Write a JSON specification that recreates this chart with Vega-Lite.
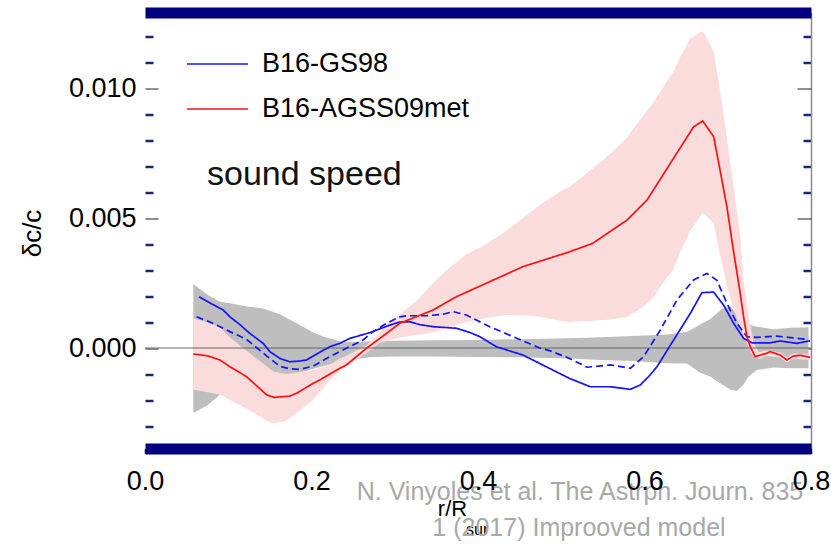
{
  "$schema": "https://vega.github.io/schema/vega-lite/v6.json",
  "width": 666,
  "height": 436,
  "autosize": {"type": "none"},
  "padding": {"left": 145, "top": 12.5, "right": 20, "bottom": 95.5},
  "config": {
    "view": {"stroke": null},
    "font": "Liberation Sans",
    "axis": {"grid": false, "labelFont": "Liberation Sans", "titleFont": "Liberation Sans"}
  },
  "resolve": {"axis": {"x": "independent", "y": "independent"}},
  "datasets": {
    "gray": [
      {"r": 0.058, "lo": -0.0025, "hi": 0.00246},
      {"r": 0.075, "lo": -0.0022, "hi": 0.00205},
      {"r": 0.09, "lo": -0.0018, "hi": 0.00178},
      {"r": 0.102, "lo": -0.0017, "hi": 0.00172},
      {"r": 0.122, "lo": -0.0016, "hi": 0.0016},
      {"r": 0.142, "lo": -0.0014, "hi": 0.00152},
      {"r": 0.162, "lo": -0.0012, "hi": 0.0013},
      {"r": 0.182, "lo": -0.001, "hi": 0.00095},
      {"r": 0.202, "lo": -0.0008, "hi": 0.0006},
      {"r": 0.214, "lo": -0.0007, "hi": 0.00044},
      {"r": 0.238, "lo": -0.0005, "hi": 0.00022},
      {"r": 0.26, "lo": -0.0004, "hi": 0.00024},
      {"r": 0.27, "lo": -0.00035, "hi": 0.00026},
      {"r": 0.3, "lo": -0.00033, "hi": 0.00028},
      {"r": 0.35, "lo": -0.00033, "hi": 0.0003},
      {"r": 0.4, "lo": -0.00035, "hi": 0.00031},
      {"r": 0.45, "lo": -0.00036, "hi": 0.00034},
      {"r": 0.51, "lo": -0.0004, "hi": 0.00038},
      {"r": 0.547, "lo": -0.00046, "hi": 0.00041},
      {"r": 0.586, "lo": -0.0005, "hi": 0.00046},
      {"r": 0.627, "lo": -0.00059, "hi": 0.00052},
      {"r": 0.651, "lo": -0.0006, "hi": 0.00062},
      {"r": 0.667, "lo": -0.00095, "hi": 0.0009},
      {"r": 0.679, "lo": -0.0011, "hi": 0.00112},
      {"r": 0.693, "lo": -0.0014, "hi": 0.0015},
      {"r": 0.703, "lo": -0.0016, "hi": 0.0016},
      {"r": 0.711, "lo": -0.00165, "hi": 0.0013},
      {"r": 0.719, "lo": -0.0014, "hi": 0.00098},
      {"r": 0.725, "lo": -0.0011, "hi": 0.0009},
      {"r": 0.735, "lo": -0.00085, "hi": 0.00082},
      {"r": 0.755, "lo": -0.00075, "hi": 0.00072},
      {"r": 0.775, "lo": -0.00078, "hi": 0.00078},
      {"r": 0.797, "lo": -0.00078, "hi": 0.0008}
    ],
    "pink": [
      {"r": 0.058, "lo": -0.0016, "hi": 0.00114},
      {"r": 0.075, "lo": -0.0017, "hi": 0.00098},
      {"r": 0.09, "lo": -0.0018, "hi": 0.0008},
      {"r": 0.102, "lo": -0.002, "hi": 0.0004},
      {"r": 0.126, "lo": -0.0024, "hi": -0.0002},
      {"r": 0.146, "lo": -0.0028, "hi": -0.0007},
      {"r": 0.154, "lo": -0.0029, "hi": -0.0009},
      {"r": 0.17, "lo": -0.0028, "hi": -0.001},
      {"r": 0.182, "lo": -0.0025, "hi": -0.00095},
      {"r": 0.202, "lo": -0.002, "hi": -0.00085},
      {"r": 0.222, "lo": -0.00125, "hi": -0.00065},
      {"r": 0.234, "lo": -0.0009, "hi": -0.0004},
      {"r": 0.242, "lo": -0.0007, "hi": -0.0003},
      {"r": 0.266, "lo": -0.0002, "hi": 0.0001},
      {"r": 0.282, "lo": 0.0002, "hi": 0.0006},
      {"r": 0.294, "lo": 0.0003, "hi": 0.001},
      {"r": 0.306, "lo": 0.0004, "hi": 0.0013},
      {"r": 0.326, "lo": 0.0005, "hi": 0.0018},
      {"r": 0.346, "lo": 0.0006, "hi": 0.0025},
      {"r": 0.366, "lo": 0.0008, "hi": 0.0031},
      {"r": 0.386, "lo": 0.001, "hi": 0.0036},
      {"r": 0.41, "lo": 0.00115, "hi": 0.004},
      {"r": 0.434, "lo": 0.00127, "hi": 0.0045},
      {"r": 0.458, "lo": 0.00125, "hi": 0.0051},
      {"r": 0.474, "lo": 0.0012, "hi": 0.0055},
      {"r": 0.498, "lo": 0.00105, "hi": 0.006},
      {"r": 0.51, "lo": 0.001, "hi": 0.0062},
      {"r": 0.538, "lo": 0.00105, "hi": 0.0069},
      {"r": 0.56, "lo": 0.0011, "hi": 0.0075},
      {"r": 0.579, "lo": 0.0012, "hi": 0.0081},
      {"r": 0.595, "lo": 0.0015, "hi": 0.0088},
      {"r": 0.61, "lo": 0.0019, "hi": 0.0094},
      {"r": 0.62, "lo": 0.0024, "hi": 0.0099},
      {"r": 0.634, "lo": 0.003, "hi": 0.0106},
      {"r": 0.643, "lo": 0.0037, "hi": 0.0112},
      {"r": 0.655, "lo": 0.0045, "hi": 0.0119},
      {"r": 0.67, "lo": 0.0052, "hi": 0.0122},
      {"r": 0.683, "lo": 0.0048, "hi": 0.0114},
      {"r": 0.69, "lo": 0.0037, "hi": 0.01005},
      {"r": 0.699, "lo": 0.0024, "hi": 0.0081},
      {"r": 0.707, "lo": 0.0015, "hi": 0.0062},
      {"r": 0.715, "lo": 0.0008, "hi": 0.0043},
      {"r": 0.719, "lo": 0.0005, "hi": 0.0026},
      {"r": 0.725, "lo": 0.0, "hi": 0.0013},
      {"r": 0.731, "lo": -0.0003, "hi": 0.0002},
      {"r": 0.737, "lo": -0.00043, "hi": -0.00015},
      {"r": 0.747, "lo": -0.0003, "hi": -0.0001},
      {"r": 0.763, "lo": -0.00037, "hi": -0.00017},
      {"r": 0.771, "lo": -0.00056, "hi": -0.00036},
      {"r": 0.779, "lo": -0.00041, "hi": -0.00021},
      {"r": 0.799, "lo": -0.00046, "hi": -0.00026}
    ],
    "lines": [
      {"r": 0.065, "v": 0.00197, "model": "B16-GS98", "style": "solid"},
      {"r": 0.08, "v": 0.0017, "model": "B16-GS98", "style": "solid"},
      {"r": 0.094, "v": 0.00146, "model": "B16-GS98", "style": "solid"},
      {"r": 0.102, "v": 0.0012, "model": "B16-GS98", "style": "solid"},
      {"r": 0.114, "v": 0.0009, "model": "B16-GS98", "style": "solid"},
      {"r": 0.126, "v": 0.00056, "model": "B16-GS98", "style": "solid"},
      {"r": 0.142, "v": 0.00018, "model": "B16-GS98", "style": "solid"},
      {"r": 0.15, "v": -0.00014, "model": "B16-GS98", "style": "solid"},
      {"r": 0.162, "v": -0.0004, "model": "B16-GS98", "style": "solid"},
      {"r": 0.174, "v": -0.00053, "model": "B16-GS98", "style": "solid"},
      {"r": 0.186, "v": -0.0005, "model": "B16-GS98", "style": "solid"},
      {"r": 0.194, "v": -0.00046, "model": "B16-GS98", "style": "solid"},
      {"r": 0.208, "v": -0.0002, "model": "B16-GS98", "style": "solid"},
      {"r": 0.222, "v": 0.00005, "model": "B16-GS98", "style": "solid"},
      {"r": 0.234, "v": 0.00018, "model": "B16-GS98", "style": "solid"},
      {"r": 0.246, "v": 0.00037, "model": "B16-GS98", "style": "solid"},
      {"r": 0.27, "v": 0.00059, "model": "B16-GS98", "style": "solid"},
      {"r": 0.294, "v": 0.00088, "model": "B16-GS98", "style": "solid"},
      {"r": 0.306, "v": 0.001, "model": "B16-GS98", "style": "solid"},
      {"r": 0.318, "v": 0.00101, "model": "B16-GS98", "style": "solid"},
      {"r": 0.33, "v": 0.0009, "model": "B16-GS98", "style": "solid"},
      {"r": 0.346, "v": 0.00082, "model": "B16-GS98", "style": "solid"},
      {"r": 0.374, "v": 0.00076, "model": "B16-GS98", "style": "solid"},
      {"r": 0.39, "v": 0.0006, "model": "B16-GS98", "style": "solid"},
      {"r": 0.402, "v": 0.00044, "model": "B16-GS98", "style": "solid"},
      {"r": 0.422, "v": 0.00005, "model": "B16-GS98", "style": "solid"},
      {"r": 0.454, "v": -0.00027, "model": "B16-GS98", "style": "solid"},
      {"r": 0.482, "v": -0.00072, "model": "B16-GS98", "style": "solid"},
      {"r": 0.51, "v": -0.00117, "model": "B16-GS98", "style": "solid"},
      {"r": 0.535, "v": -0.00149, "model": "B16-GS98", "style": "solid"},
      {"r": 0.559, "v": -0.00149, "model": "B16-GS98", "style": "solid"},
      {"r": 0.583, "v": -0.00159, "model": "B16-GS98", "style": "solid"},
      {"r": 0.595, "v": -0.00142, "model": "B16-GS98", "style": "solid"},
      {"r": 0.605, "v": -0.0011, "model": "B16-GS98", "style": "solid"},
      {"r": 0.615, "v": -0.00072, "model": "B16-GS98", "style": "solid"},
      {"r": 0.635, "v": 0.00031, "model": "B16-GS98", "style": "solid"},
      {"r": 0.655, "v": 0.00133, "model": "B16-GS98", "style": "solid"},
      {"r": 0.669, "v": 0.00213, "model": "B16-GS98", "style": "solid"},
      {"r": 0.683, "v": 0.00215, "model": "B16-GS98", "style": "solid"},
      {"r": 0.695, "v": 0.00165, "model": "B16-GS98", "style": "solid"},
      {"r": 0.707, "v": 0.00095, "model": "B16-GS98", "style": "solid"},
      {"r": 0.719, "v": 0.00037, "model": "B16-GS98", "style": "solid"},
      {"r": 0.729, "v": 0.0002, "model": "B16-GS98", "style": "solid"},
      {"r": 0.751, "v": 0.0002, "model": "B16-GS98", "style": "solid"},
      {"r": 0.763, "v": 0.00027, "model": "B16-GS98", "style": "solid"},
      {"r": 0.783, "v": 0.00018, "model": "B16-GS98", "style": "solid"},
      {"r": 0.799, "v": 0.00028, "model": "B16-GS98", "style": "solid"},

      {"r": 0.062, "v": 0.0012, "model": "B16-GS98", "style": "dashed"},
      {"r": 0.078, "v": 0.001, "model": "B16-GS98", "style": "dashed"},
      {"r": 0.094, "v": 0.00076, "model": "B16-GS98", "style": "dashed"},
      {"r": 0.102, "v": 0.00063, "model": "B16-GS98", "style": "dashed"},
      {"r": 0.122, "v": 0.00033, "model": "B16-GS98", "style": "dashed"},
      {"r": 0.146, "v": -0.0003, "model": "B16-GS98", "style": "dashed"},
      {"r": 0.162, "v": -0.0007, "model": "B16-GS98", "style": "dashed"},
      {"r": 0.174, "v": -0.0008, "model": "B16-GS98", "style": "dashed"},
      {"r": 0.186, "v": -0.00082, "model": "B16-GS98", "style": "dashed"},
      {"r": 0.202, "v": -0.0007, "model": "B16-GS98", "style": "dashed"},
      {"r": 0.222, "v": -0.00033, "model": "B16-GS98", "style": "dashed"},
      {"r": 0.23, "v": -0.0002, "model": "B16-GS98", "style": "dashed"},
      {"r": 0.25, "v": 0.00012, "model": "B16-GS98", "style": "dashed"},
      {"r": 0.262, "v": 0.00031, "model": "B16-GS98", "style": "dashed"},
      {"r": 0.274, "v": 0.00063, "model": "B16-GS98", "style": "dashed"},
      {"r": 0.29, "v": 0.00095, "model": "B16-GS98", "style": "dashed"},
      {"r": 0.306, "v": 0.0012, "model": "B16-GS98", "style": "dashed"},
      {"r": 0.314, "v": 0.00124, "model": "B16-GS98", "style": "dashed"},
      {"r": 0.338, "v": 0.00124, "model": "B16-GS98", "style": "dashed"},
      {"r": 0.358, "v": 0.0013, "model": "B16-GS98", "style": "dashed"},
      {"r": 0.37, "v": 0.0014, "model": "B16-GS98", "style": "dashed"},
      {"r": 0.386, "v": 0.00127, "model": "B16-GS98", "style": "dashed"},
      {"r": 0.414, "v": 0.00082, "model": "B16-GS98", "style": "dashed"},
      {"r": 0.442, "v": 0.00044, "model": "B16-GS98", "style": "dashed"},
      {"r": 0.474, "v": 0.0, "model": "B16-GS98", "style": "dashed"},
      {"r": 0.486, "v": -0.0001, "model": "B16-GS98", "style": "dashed"},
      {"r": 0.51, "v": -0.0004, "model": "B16-GS98", "style": "dashed"},
      {"r": 0.531, "v": -0.00074, "model": "B16-GS98", "style": "dashed"},
      {"r": 0.559, "v": -0.00065, "model": "B16-GS98", "style": "dashed"},
      {"r": 0.583, "v": -0.00078, "model": "B16-GS98", "style": "dashed"},
      {"r": 0.599, "v": -0.00033, "model": "B16-GS98", "style": "dashed"},
      {"r": 0.619, "v": 0.00069, "model": "B16-GS98", "style": "dashed"},
      {"r": 0.639, "v": 0.00185, "model": "B16-GS98", "style": "dashed"},
      {"r": 0.659, "v": 0.00262, "model": "B16-GS98", "style": "dashed"},
      {"r": 0.675, "v": 0.00287, "model": "B16-GS98", "style": "dashed"},
      {"r": 0.687, "v": 0.0026, "model": "B16-GS98", "style": "dashed"},
      {"r": 0.699, "v": 0.00172, "model": "B16-GS98", "style": "dashed"},
      {"r": 0.711, "v": 0.00095, "model": "B16-GS98", "style": "dashed"},
      {"r": 0.723, "v": 0.00044, "model": "B16-GS98", "style": "dashed"},
      {"r": 0.735, "v": 0.00041, "model": "B16-GS98", "style": "dashed"},
      {"r": 0.759, "v": 0.00046, "model": "B16-GS98", "style": "dashed"},
      {"r": 0.775, "v": 0.0004, "model": "B16-GS98", "style": "dashed"},
      {"r": 0.797, "v": 0.00033, "model": "B16-GS98", "style": "dashed"},

      {"r": 0.058, "v": -0.00023, "model": "B16-AGSS09met", "style": "solid"},
      {"r": 0.075, "v": -0.0003, "model": "B16-AGSS09met", "style": "solid"},
      {"r": 0.09, "v": -0.00046, "model": "B16-AGSS09met", "style": "solid"},
      {"r": 0.102, "v": -0.00072, "model": "B16-AGSS09met", "style": "solid"},
      {"r": 0.122, "v": -0.0011, "model": "B16-AGSS09met", "style": "solid"},
      {"r": 0.146, "v": -0.0018, "model": "B16-AGSS09met", "style": "solid"},
      {"r": 0.155, "v": -0.0019, "model": "B16-AGSS09met", "style": "solid"},
      {"r": 0.174, "v": -0.00185, "model": "B16-AGSS09met", "style": "solid"},
      {"r": 0.182, "v": -0.00174, "model": "B16-AGSS09met", "style": "solid"},
      {"r": 0.202, "v": -0.00136, "model": "B16-AGSS09met", "style": "solid"},
      {"r": 0.21, "v": -0.00123, "model": "B16-AGSS09met", "style": "solid"},
      {"r": 0.234, "v": -0.00078, "model": "B16-AGSS09met", "style": "solid"},
      {"r": 0.242, "v": -0.00065, "model": "B16-AGSS09met", "style": "solid"},
      {"r": 0.266, "v": -0.00001, "model": "B16-AGSS09met", "style": "solid"},
      {"r": 0.29, "v": 0.00056, "model": "B16-AGSS09met", "style": "solid"},
      {"r": 0.306, "v": 0.00095, "model": "B16-AGSS09met", "style": "solid"},
      {"r": 0.314, "v": 0.00105, "model": "B16-AGSS09met", "style": "solid"},
      {"r": 0.346, "v": 0.00146, "model": "B16-AGSS09met", "style": "solid"},
      {"r": 0.374, "v": 0.00197, "model": "B16-AGSS09met", "style": "solid"},
      {"r": 0.414, "v": 0.00255, "model": "B16-AGSS09met", "style": "solid"},
      {"r": 0.454, "v": 0.00313, "model": "B16-AGSS09met", "style": "solid"},
      {"r": 0.51, "v": 0.0037, "model": "B16-AGSS09met", "style": "solid"},
      {"r": 0.538, "v": 0.00403, "model": "B16-AGSS09met", "style": "solid"},
      {"r": 0.579, "v": 0.00492, "model": "B16-AGSS09met", "style": "solid"},
      {"r": 0.603, "v": 0.00569, "model": "B16-AGSS09met", "style": "solid"},
      {"r": 0.631, "v": 0.0071, "model": "B16-AGSS09met", "style": "solid"},
      {"r": 0.659, "v": 0.00851, "model": "B16-AGSS09met", "style": "solid"},
      {"r": 0.67, "v": 0.00873, "model": "B16-AGSS09met", "style": "solid"},
      {"r": 0.683, "v": 0.00813, "model": "B16-AGSS09met", "style": "solid"},
      {"r": 0.69, "v": 0.00697, "model": "B16-AGSS09met", "style": "solid"},
      {"r": 0.699, "v": 0.00543, "model": "B16-AGSS09met", "style": "solid"},
      {"r": 0.707, "v": 0.0037, "model": "B16-AGSS09met", "style": "solid"},
      {"r": 0.715, "v": 0.0021, "model": "B16-AGSS09met", "style": "solid"},
      {"r": 0.719, "v": 0.0012, "model": "B16-AGSS09met", "style": "solid"},
      {"r": 0.723, "v": 0.00044, "model": "B16-AGSS09met", "style": "solid"},
      {"r": 0.727, "v": 0.00005, "model": "B16-AGSS09met", "style": "solid"},
      {"r": 0.733, "v": -0.00033, "model": "B16-AGSS09met", "style": "solid"},
      {"r": 0.747, "v": -0.0002, "model": "B16-AGSS09met", "style": "solid"},
      {"r": 0.751, "v": -0.00014, "model": "B16-AGSS09met", "style": "solid"},
      {"r": 0.763, "v": -0.00027, "model": "B16-AGSS09met", "style": "solid"},
      {"r": 0.771, "v": -0.00046, "model": "B16-AGSS09met", "style": "solid"},
      {"r": 0.779, "v": -0.00031, "model": "B16-AGSS09met", "style": "solid"},
      {"r": 0.787, "v": -0.00028, "model": "B16-AGSS09met", "style": "solid"},
      {"r": 0.799, "v": -0.00036, "model": "B16-AGSS09met", "style": "solid"}
    ],
    "label": [{"r": 0.0745, "v": 0.00627, "t": "sound speed"}],
    "sub": [{"r": 0.3856, "v": -0.00719, "t": "sur"}],
    "credit": [
      {"r": 0.5225, "v": -0.00585, "t": "N. Vinyoles et al. The Astrph. Journ. 835"},
      {"r": 0.5213, "v": -0.00723, "t": "1 (2017) Improoved model"}
    ]
  },
  "layer": [
    {
      "data": {"name": "gray"},
      "mark": {"type": "area", "color": "#bebebe", "opacity": 1},
      "encoding": {
        "x": {
          "field": "r", "type": "quantitative",
          "scale": {"domain": [0, 0.8], "nice": false, "zero": false},
          "axis": {
            "orient": "bottom",
            "values": [0, 0.05, 0.1, 0.15, 0.2, 0.25, 0.3, 0.35, 0.4, 0.45, 0.5, 0.55, 0.6, 0.65, 0.7, 0.75, 0.8],
            "labelExpr": "round(datum.value*20) % 4 == 0 ? format(datum.value, '.1f') : ''",
            "labelFontSize": 27, "labelColor": "#000", "labelPadding": 14.5,
            "labelOverlap": false, "labelFlush": false,
            "tickSize": 5, "tickColor": "#000", "tickWidth": 1.5,
            "domainColor": "#000080", "domainWidth": 11,
            "title": "r/R", "titleFontSize": 22, "titleFontWeight": "normal", "titleColor": "#000",
            "titleX": 307, "titleY": 66.5, "titleBaseline": "alphabetic", "titleAlign": "center",
            "zindex": 1
          }
        },
        "y": {
          "field": "lo", "type": "quantitative",
          "scale": {"domain": [-0.003865, 0.012904], "nice": false, "zero": false},
          "axis": {
            "orient": "left",
            "values": [0, 0.005, 0.01],
            "format": ".3f",
            "labelFontSize": 27, "labelColor": "#000", "labelPadding": 22,
            "tickSize": -13, "tickColor": "#222", "tickWidth": 1,
            "domain": false,
            "title": "δc/c", "titleFontSize": 26, "titleFontWeight": "normal", "titleColor": "#000",
            "titleX": -113, "titleY": 220.5, "titleAngle": 270,
            "titleAlign": "center", "titleBaseline": "middle"
          }
        },
        "y2": {"field": "hi"}
      }
    },
    {
      "data": {"name": "pink"},
      "mark": {"type": "area", "color": "#fbdcdc", "opacity": 1},
      "encoding": {
        "x": {
          "field": "r", "type": "quantitative",
          "scale": {"domain": [0, 0.8], "nice": false, "zero": false},
          "axis": {
            "orient": "top",
            "values": [0.05, 0.1, 0.15, 0.2, 0.25, 0.3, 0.35, 0.4, 0.45, 0.5, 0.55, 0.6, 0.65, 0.7, 0.75],
            "labels": false,
            "tickSize": 5, "tickColor": "#000", "tickWidth": 1.5,
            "domainColor": "#000080", "domainWidth": 11,
            "title": null, "zindex": 1
          }
        },
        "y": {
          "field": "lo", "type": "quantitative",
          "scale": {"domain": [-0.003865, 0.012904], "nice": false, "zero": false},
          "axis": {
            "orient": "left",
            "values": [-0.003, -0.002, -0.001, 0.001, 0.002, 0.003, 0.004, 0.006, 0.007, 0.008, 0.009, 0.011, 0.012],
            "labels": false,
            "tickSize": -8, "tickWidth": 2.5, "tickColor": "#1a237e",
            "domain": false, "title": null
          }
        },
        "y2": {"field": "hi"}
      }
    },
    {
      "data": {"values": [{"v": 0}]},
      "mark": {"type": "rule", "color": "#666666", "strokeWidth": 1},
      "encoding": {
        "y": {
          "field": "v", "type": "quantitative",
          "scale": {"domain": [-0.003865, 0.012904], "nice": false, "zero": false},
          "axis": {
            "orient": "right",
            "values": [-0.003, -0.002, -0.001, 0.001, 0.002, 0.003, 0.004, 0.006, 0.007, 0.008, 0.009, 0.011, 0.012],
            "labels": false,
            "tickSize": -8, "tickWidth": 2.5, "tickColor": "#1a237e",
            "domain": true, "domainColor": "#8a8a8a", "domainWidth": 1.5,
            "title": null
          }
        }
      }
    },
    {
      "data": {"name": "lines"},
      "mark": {"type": "line", "strokeWidth": 1.7},
      "encoding": {
        "x": {
          "field": "r", "type": "quantitative",
          "scale": {"domain": [0, 0.8], "nice": false, "zero": false},
          "axis": null
        },
        "y": {
          "field": "v", "type": "quantitative",
          "scale": {"domain": [-0.003865, 0.012904], "nice": false, "zero": false},
          "axis": {
            "orient": "right",
            "values": [0, 0.005, 0.01],
            "labels": false,
            "tickSize": -14, "tickWidth": 1, "tickColor": "#222",
            "domain": false, "title": null
          }
        },
        "color": {
          "field": "model", "type": "nominal",
          "scale": {"domain": ["B16-GS98", "B16-AGSS09met"], "range": ["#1414ff", "#ff1010"]},
          "legend": {
            "orient": "none", "legendX": 41, "legendY": 20,
            "title": null, "symbolType": "stroke", "symbolSize": 3721,
            "symbolStrokeWidth": 1.6,
            "labelFontSize": 27, "labelFont": "Liberation Sans", "labelColor": "#000",
            "labelOffset": 13, "rowPadding": -7.5, "padding": 0, "labelLimit": 400
          }
        },
        "strokeDash": {
          "field": "style", "type": "nominal",
          "scale": {"domain": ["solid", "dashed"], "range": [[1, 0], [7, 4]]},
          "legend": null
        },
        "detail": {"field": "style"}
      }
    },
    {
      "data": {"name": "label"},
      "mark": {"type": "text", "align": "left", "baseline": "alphabetic", "fontSize": 34, "font": "Liberation Sans", "color": "#111111"},
      "encoding": {
        "x": {"field": "r", "type": "quantitative", "scale": {"domain": [0, 0.8], "nice": false, "zero": false}, "axis": null},
        "y": {"field": "v", "type": "quantitative", "scale": {"domain": [-0.003865, 0.012904], "nice": false, "zero": false}, "axis": null},
        "text": {"field": "t"}
      }
    },
    {
      "data": {"name": "sub"},
      "mark": {"type": "text", "align": "left", "baseline": "alphabetic", "fontSize": 16, "font": "Liberation Sans", "color": "#000000"},
      "encoding": {
        "x": {"field": "r", "type": "quantitative", "scale": {"domain": [0, 0.8], "nice": false, "zero": false}, "axis": null},
        "y": {"field": "v", "type": "quantitative", "scale": {"domain": [-0.003865, 0.012904], "nice": false, "zero": false}, "axis": null},
        "text": {"field": "t"}
      }
    },
    {
      "data": {"name": "credit"},
      "mark": {"type": "text", "align": "center", "baseline": "alphabetic", "fontSize": 25, "font": "Liberation Sans", "color": "#a8a8a8"},
      "encoding": {
        "x": {"field": "r", "type": "quantitative", "scale": {"domain": [0, 0.8], "nice": false, "zero": false}, "axis": null},
        "y": {"field": "v", "type": "quantitative", "scale": {"domain": [-0.003865, 0.012904], "nice": false, "zero": false}, "axis": null},
        "text": {"field": "t"}
      }
    }
  ]
}
